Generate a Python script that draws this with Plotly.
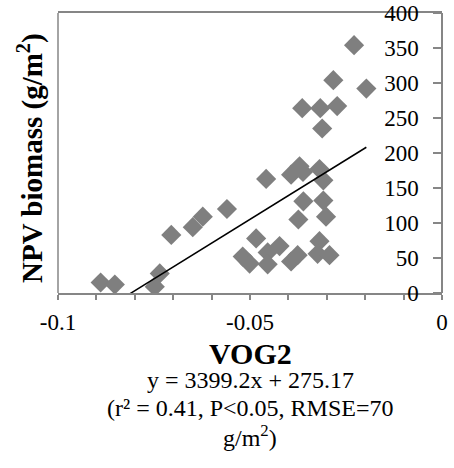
import plotly.graph_objects as go

vog2 = [-0.0889, -0.0852, -0.0735, -0.0748, -0.0705, -0.0649, -0.0623, -0.0560,
        -0.0458, -0.0484, -0.0519, -0.0501, -0.0454, -0.0423, -0.0454, -0.0393,
        -0.0376, -0.0374, -0.0361, -0.0371, -0.0393, -0.0362, -0.0319, -0.0309,
        -0.0309, -0.0302, -0.0319, -0.0324, -0.0293, -0.0364, -0.0317, -0.0273,
        -0.0312, -0.0283, -0.0197, -0.0229]
npv = [15, 12, 28, 9, 83, 94, 109, 120,
       163, 78, 52, 42, 58, 67, 41, 45,
       54, 105, 131, 181, 169, 173, 177, 161,
       132, 109, 74, 56, 54, 264, 264, 267,
       235, 304, 292, 354]

slope = 3399.2
intercept = 275.17
x_ticks = [-0.1, -0.05, 0]
x_tick_labels = ["-0.1", "-0.05", "0"]
y_ticks = [0, 50, 100, 150, 200, 250, 300, 350, 400]
eq_lines = ["y = 3399.2x + 275.17",
            "(r² = 0.41, P&lt;0.05, RMSE=70",
            "g/m<sup>2</sup>)"]

FONT = "Liberation Serif, Times New Roman, serif"
AXC = "#868686"
W, H = 454, 468
ML, MR, MT, MB = 58, 12, 13, 175
plot_w = W - ML - MR
plot_h = H - MT - MB


def py(pix):
    return (H - MB - pix) / plot_h


def px(pix):
    return (pix - ML) / plot_w


line_x = [min(vog2), max(vog2)]
line_y = [slope * v + intercept for v in line_x]

fig = go.Figure()
fig.add_trace(go.Scatter(x=vog2, y=npv, mode="markers",
                         marker=dict(symbol="diamond", size=15.5, color="#7f7f7f"),
                         showlegend=False))
fig.add_trace(go.Scatter(x=line_x, y=line_y, mode="lines",
                         line=dict(color="black", width=1.5), showlegend=False))

annotations = [
    dict(text="<b>VOG2</b>", x=0.5, xref="paper", y=py(353), yref="paper",
         yanchor="middle", showarrow=False, font=dict(size=30, family=FONT)),
    dict(text="<b>NPV biomass (g/m<sup>2</sup>)</b>", textangle=-90,
         x=px(31), xref="paper", xanchor="center", y=py(158), yref="paper",
         yanchor="middle", showarrow=False, font=dict(size=29, family=FONT)),
]
for txt, ypix in zip(eq_lines, [380, 408, 436]):
    annotations.append(dict(text=txt, x=0.5, xref="paper", y=py(ypix), yref="paper",
                            yanchor="middle", showarrow=False,
                            font=dict(size=24, family=FONT)))

fig.update_layout(
    width=W, height=H,
    margin=dict(l=ML, r=MR, t=MT, b=MB, autoexpand=False),
    paper_bgcolor="white", plot_bgcolor="white",
    font=dict(family=FONT, size=23, color="black"),
    xaxis=dict(range=[-0.1, 0], tickvals=x_ticks, ticktext=x_tick_labels,
               showgrid=False, zeroline=False, showline=True, linecolor=AXC,
               linewidth=1.5, mirror=True, ticks="outside", ticklen=5,
               tickcolor=AXC, tickwidth=1.5, automargin=False,
               ticklabelstandoff=3,
               minor=dict(dtick=0.01, tick0=0, ticks="outside", ticklen=5,
                          tickcolor=AXC, tickwidth=1.5, showgrid=False),
               tickfont=dict(size=23, family=FONT)),
    yaxis=dict(range=[0, 400], tickvals=y_ticks, side="left",
               anchor="free", position=1.0, automargin=False,
               showgrid=False, zeroline=False,
               showline=True, linecolor=AXC, linewidth=1.5,
               ticks="outside", ticklen=8, tickcolor=AXC, tickwidth=1.5,
               ticklabelstandoff=10,
               tickfont=dict(size=23, family=FONT)),
    shapes=[dict(type="line", xref="paper", yref="paper", x0=0, x1=0, y0=0, y1=1,
                 line=dict(color=AXC, width=1.5))],
    annotations=annotations,
)

fig.write_html("out.html")
